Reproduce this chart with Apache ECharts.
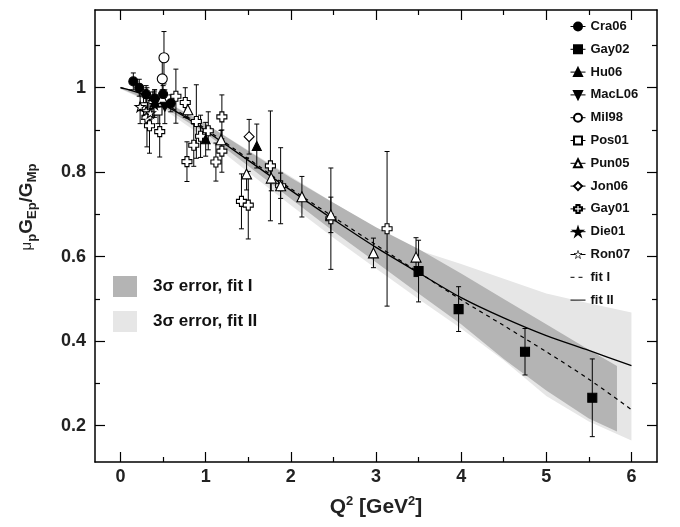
<!DOCTYPE html>
<html>
<head>
<meta charset="utf-8">
<script src="https://cdn.jsdelivr.net/npm/echarts@6/dist/echarts.min.js"></script>
<style>
  html, body { margin: 0; padding: 0; background: #fff; }
  #ratio { width: 680px; height: 527px; }
</style>
</head>
<body>
<div id="ratio"></div>
<script>
  // data: [Q2, value, error]
  const cra06 = [[0.15, 1.015, 0.02], [0.22, 1.0, 0.02], [0.30, 0.985, 0.02], [0.40, 0.975, 0.02], [0.50, 0.985, 0.02], [0.59, 0.963, 0.02]];
  const gay02 = [[3.50, 0.566, 0.073], [3.97, 0.476, 0.053], [4.75, 0.375, 0.055], [5.54, 0.266, 0.092]];
  const hu06 = [[0.40, 0.965, 0.03], [1.00, 0.878, 0.04], [1.60, 0.862, 0.052]];
  const macl06 = [[0.52, 0.955, 0.04]];
  const mil98 = [[0.49, 1.021, 0.05], [0.51, 1.071, 0.062]];
  const pos01 = [[0.27, 0.955, 0.03], [0.38, 0.96, 0.03], [0.44, 0.945, 0.03]];
  const pun05 = [[0.49, 0.975, 0.02], [0.79, 0.948, 0.02], [1.18, 0.877, 0.022], [1.48, 0.796, 0.038], [1.77, 0.786, 0.03],
    [1.88, 0.768, 0.03], [2.13, 0.742, 0.048], [2.47, 0.699, 0.042], [2.97, 0.609, 0.035], [3.47, 0.599, 0.046]];
  const jon06 = [[1.51, 0.884, 0.041]];
  const gay01 = [[0.31, 0.93, 0.07], [0.34, 0.91, 0.065], [0.46, 0.896, 0.06], [0.65, 0.98, 0.064], [0.76, 0.965, 0.035],
    [0.78, 0.825, 0.047], [0.86, 0.864, 0.05], [0.89, 0.92, 0.087], [0.94, 0.885, 0.05], [1.03, 0.898, 0.045],
    [1.12, 0.824, 0.045], [1.19, 0.931, 0.052], [1.19, 0.85, 0.05], [1.42, 0.731, 0.065], [1.50, 0.722, 0.08],
    [1.76, 0.815, 0.13], [1.88, 0.768, 0.09], [2.47, 0.69, 0.12], [3.13, 0.666, 0.183]];
  const die01 = [[0.40, 0.96, 0.03]];
  const ron07 = [[0.23, 0.955, 0.04], [0.30, 0.945, 0.03], [0.35, 0.94, 0.03]];

  // fits
  const fitQ = [0, 0.25, 0.5, 0.75, 1, 1.5, 2, 2.5, 3, 3.5, 4, 4.5, 5, 5.5, 6];
  const fit1 = [1.0, 0.987, 0.963, 0.935, 0.902, 0.832, 0.761, 0.694, 0.628, 0.563, 0.498, 0.437, 0.375, 0.31, 0.238];
  const fit2 = [1.0, 0.985, 0.96, 0.932, 0.898, 0.828, 0.757, 0.688, 0.622, 0.562, 0.503, 0.455, 0.413, 0.378, 0.342];

  // 3 sigma bands
  const band1Q = [0, 0.5, 1, 1.5, 2, 2.5, 3, 3.5, 4, 4.5, 5, 5.5, 5.83];
  const band1Lo = [0.998, 0.955, 0.892, 0.815, 0.737, 0.66, 0.587, 0.513, 0.44, 0.358, 0.283, 0.217, 0.186];
  const band1Hi = [1.002, 0.97, 0.915, 0.85, 0.787, 0.728, 0.67, 0.618, 0.56, 0.5, 0.44, 0.38, 0.341];
  const band2Q = [0, 0.5, 1, 1.5, 2, 2.5, 3, 3.5, 4, 4.5, 5, 5.5, 6];
  const band2Lo = [0.997, 0.95, 0.88, 0.80, 0.722, 0.645, 0.572, 0.5, 0.43, 0.355, 0.27, 0.21, 0.165];
  const band2Hi = [1.003, 0.972, 0.915, 0.852, 0.79, 0.728, 0.668, 0.615, 0.583, 0.548, 0.513, 0.49, 0.468];

  const xMajor = [0, 1, 2, 3, 4, 5, 6];
  const xMinor = [0.5, 1.5, 2.5, 3.5, 4.5, 5.5];
  const yMajor = [0.2, 0.4, 0.6, 0.8, 1];
  const yMinor = [0.3, 0.5, 0.7, 0.9, 1.1];

  const FONT = '"Liberation Sans", Arial, Helvetica, sans-serif';
  const INK = '#111';

  let chart = echarts.init(document.getElementById('ratio'));

  const CROSS = 'path://M3,0H7V3H10V7H7V10H3V7H0V3H3Z';
  const DOWN = 'path://M0,0L10,0L5,9Z';
  const STAR = 'path://M5,0L6.2,3.6L10,3.6L6.9,5.8L8.1,9.5L5,7.2L1.9,9.5L3.1,5.8L0,3.6L3.8,3.6Z';

  function markers(name, data, symbol, size, filled) {
    return {
      name: name,
      type: 'line',
      data: data.map(d => [d[0], d[1]]),
      symbol: symbol,
      symbolSize: size,
      showSymbol: true,
      lineStyle: { opacity: 0 },
      itemStyle: { color: filled ? '#000' : '#fff', borderColor: '#000', borderWidth: 1.1 },
      z: 6,
      silent: true
    };
  }

  function errors(data) {
    return {
      type: 'custom',
      data: data.map(d => [d[0], d[1] - d[2], d[1] + d[2]]),
      renderItem: function (params, api) {
        let a = api.coord([api.value(0), api.value(1)]);
        let b = api.coord([api.value(0), api.value(2)]);
        let st = { stroke: '#000', lineWidth: 1 };
        return {
          type: 'group',
          children: [
            { type: 'line', shape: { x1: a[0], y1: a[1], x2: b[0], y2: b[1] }, style: st },
            { type: 'line', shape: { x1: a[0] - 2.5, y1: a[1], x2: a[0] + 2.5, y2: a[1] }, style: st },
            { type: 'line', shape: { x1: b[0] - 2.5, y1: b[1], x2: b[0] + 2.5, y2: b[1] }, style: st }
          ]
        };
      },
      z: 5,
      silent: true
    };
  }

  function band(name, qs, lo, hi, color, z) {
    return {
      name: name,
      type: 'custom',
      data: [[qs[0], lo[0]]],
      itemStyle: { color: color },
      renderItem: function (params, api) {
        let pts = [];
        for (let i = 0; i < qs.length; i++) pts.push(api.coord([qs[i], lo[i]]));
        for (let i = qs.length - 1; i >= 0; i--) pts.push(api.coord([qs[i], hi[i]]));
        return { type: 'polygon', shape: { points: pts }, style: { fill: color } };
      },
      z: z,
      silent: true
    };
  }

  function xAxis(pos, ticks, len, labels, line) {
    return {
      type: 'value', position: pos, min: -0.3, max: 6.3,
      axisLine: { show: line, onZero: false, lineStyle: { color: '#000', width: 1.5 } },
      axisTick: { inside: true, length: len, customValues: ticks, lineStyle: { color: '#000', width: 1.2 } },
      axisLabel: labels ? { customValues: ticks, margin: 6, color: '#222', fontFamily: FONT, fontWeight: 'bold', fontSize: 18 } : { show: false },
      splitLine: { show: false }
    };
  }
  function yAxis(pos, ticks, len, labels, line) {
    return {
      type: 'value', position: pos, min: 0.114, max: 1.184,
      axisLine: { show: line, onZero: false, lineStyle: { color: '#000', width: 1.5 } },
      axisTick: { inside: true, length: len, customValues: ticks, lineStyle: { color: '#000', width: 1.2 } },
      axisLabel: labels ? { customValues: ticks, margin: 9, color: '#222', fontFamily: FONT, fontWeight: 'bold', fontSize: 18,
        formatter: v => String(+v.toFixed(1)) } : { show: false },
      splitLine: { show: false }
    };
  }

  let xs = [xAxis('bottom', xMajor, 10, true, true), xAxis('bottom', xMinor, 5, false, false),
            xAxis('top', xMajor, 10, false, true), xAxis('top', xMinor, 5, false, false)];
  xs[0].name = '{b|Q}{sup|2}{b| [GeV}{sup|2}{b|]}';
  xs[0].nameLocation = 'middle';
  xs[0].nameGap = 33;
  xs[0].nameTextStyle = {
    rich: {
      b: { fontFamily: FONT, fontWeight: 'bold', fontSize: 21, color: '#222' },
      sup: { fontFamily: FONT, fontWeight: 'bold', fontSize: 13, color: '#222', padding: [0, 0, 12, 0] }
    }
  };
  let ys = [yAxis('left', yMajor, 10, true, true), yAxis('left', yMinor, 5, false, false),
            yAxis('right', yMajor, 10, false, true), yAxis('right', yMinor, 5, false, false)];
  ys[0].name = '{mu|\u03bc}{sub|p}{b|G}{sub|Ep}{b|/G}{sub|Mp}';
  ys[0].nameLocation = 'middle';
  ys[0].nameGap = 56;
  ys[0].nameRotate = 90;
  ys[0].nameTextStyle = {
    padding: [0, 0, 0, 58],
    rich: {
      b: { fontFamily: FONT, fontWeight: 'bold', fontSize: 19, color: '#222' },
      mu: { fontFamily: FONT, fontSize: 15, color: '#222' },
      sub: { fontFamily: FONT, fontWeight: 'bold', fontSize: 13, color: '#222', padding: [12, 0, 0, 0] }
    }
  };

  let option = {
    animation: false,
    backgroundColor: '#fff',
    grid: { left: 95, right: 23, top: 10, bottom: 65 },
    xAxis: xs,
    yAxis: ys,
    legend: [{
      data: ['Cra06', 'Gay02', 'Hu06', 'MacL06', 'Mil98', 'Pos01', 'Pun05', 'Jon06', 'Gay01', 'Die01',
        { name: 'Ron07', itemStyle: { borderWidth: 0.7 } },
        { name: 'fit I', itemStyle: { opacity: 0 } }, { name: 'fit II', itemStyle: { opacity: 0 } }],
      orient: 'vertical', left: 565, top: 15,
      itemWidth: 15, itemHeight: 10, itemGap: 9.8,
      selectedMode: false,
      lineStyle: { opacity: 1, width: 1, color: '#000' },
      textStyle: { fontFamily: FONT, fontWeight: 'bold', fontSize: 13, color: INK }
    }, {
      data: ['3\u03c3 error, fit I', '3\u03c3 error, fit II'],
      orient: 'vertical', left: 108, top: 271,
      itemWidth: 24, itemHeight: 21, itemGap: 14, icon: 'rect',
      selectedMode: false,
      textStyle: { fontFamily: FONT, fontWeight: 'bold', fontSize: 17, color: INK, padding: [0, 0, 0, 11] }
    }],
    series: [
      band('3\u03c3 error, fit II', band2Q, band2Lo, band2Hi, '#e6e6e6', 1),
      band('3\u03c3 error, fit I', band1Q, band1Lo, band1Hi, '#b4b4b4', 2),
      { name: 'fit I', type: 'line', data: fitQ.map((q, i) => [q, fit1[i]]), smooth: 0.3, showSymbol: false, symbol: 'none',
        lineStyle: { color: '#000', width: 1.2, type: [4, 4] }, itemStyle: { color: '#000' }, z: 3, silent: true },
      { name: 'fit II', type: 'line', data: fitQ.map((q, i) => [q, fit2[i]]), smooth: 0.3, showSymbol: false, symbol: 'none',
        lineStyle: { color: '#000', width: 1.3 }, itemStyle: { color: '#000' }, z: 3, silent: true },
      errors(gay01), errors(cra06), errors(gay02), errors(hu06), errors(macl06), errors(mil98),
      errors(pos01), errors(pun05), errors(jon06), errors(die01), errors(ron07),
      markers('Gay01', gay01, CROSS, 10, false),
      markers('Pun05', pun05, 'triangle', 10, false),
      markers('Pos01', pos01, 'rect', 8, false),
      markers('Mil98', mil98, 'circle', 10, false),
      markers('Jon06', jon06, 'diamond', 10, false),
      markers('Ron07', ron07, STAR, 10, false),
      markers('Die01', die01, STAR, 9, true),
      markers('MacL06', macl06, DOWN, 9, true),
      markers('Hu06', hu06, 'triangle', 9, true),
      markers('Cra06', cra06, 'circle', 9, true),
      markers('Gay02', gay02, 'rect', 9, true)
    ]
  };

  chart.setOption(option);
</script>
</body>
</html>
